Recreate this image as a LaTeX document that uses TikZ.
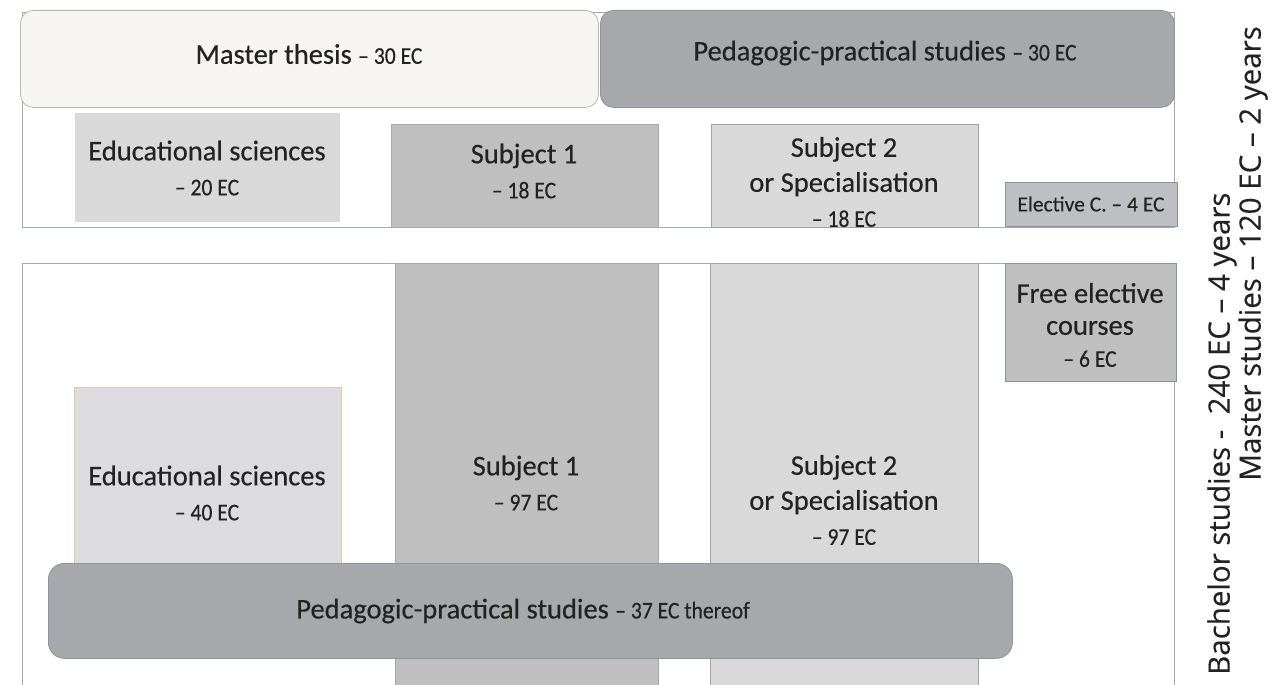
\documentclass[tikz,border=0pt]{standalone}
\usepackage{fontspec}
\setmainfont[FakeBold=0.4]{Carlito}
\newfontfamily\subf[FakeStretch=0.9,FakeBold=0.4]{Carlito}
\newfontfamily\osans[FakeBold=0.2]{Open Sans}
\definecolor{frameline}{HTML}{A3ABB4}
\definecolor{txt}{HTML}{222222}
\definecolor{thesisfill}{HTML}{F7F5F1}
\definecolor{thesisline}{HTML}{BFB7AC}
\definecolor{pedfill}{HTML}{A6A8AB}
\definecolor{pedline}{HTML}{8D959E}
\definecolor{darkfill}{HTML}{BFBFBF}
\definecolor{darkline}{HTML}{A9A9A9}
\definecolor{lightfill}{HTML}{D9D9D9}
\definecolor{lightline}{HTML}{A0A5A0}
\definecolor{elecfill}{HTML}{BEBFC3}
\definecolor{elecline}{HTML}{8994A3}
\definecolor{edufill}{HTML}{DCDCDE}
\definecolor{eduline}{HTML}{D8CF9F}
\newcommand\ecsub[1]{{\subf\fontsize{24}{35}\selectfont #1}}
\tikzset{
  sz/.style 2 args={minimum width=#1pt, minimum height=#2pt},
  boxnode/.style={rectangle, inner sep=0pt, anchor=north west, line width=0.8pt},
  framebox/.style={boxnode, draw=frameline, line width=1pt},
  darkbox/.style={boxnode, fill=darkfill, draw=darkline},
  lightbox/.style={boxnode, fill=lightfill, draw=lightline},
  pedbox/.style={boxnode, fill=pedfill, draw=pedline, rounded corners=13pt},
  label/.style={text=txt, align=center, inner sep=0pt, font=\fontsize{28.5}{35}\selectfont},
  sidelabel/.style={text=txt, inner sep=0pt, rotate=90, font=\osans\fontsize{29.5}{35}\selectfont}
}
\begin{document}
\begin{tikzpicture}[x=1pt,y=-1pt]
\useasboundingbox (0,0) rectangle (1272,685);
\clip (0,0) rectangle (1272,685);
\fill[white] (0,0) rectangle (1272,685);

% Master frame
\node[framebox, sz={1152}{215}] (mframe) at (22,12) {};
\node[boxnode, fill=thesisfill, draw=thesisline, rounded corners=13pt, sz={578}{97}] (mthesis) at (20,10) {};
\node[pedbox, sz={574}{97}] (mped) at (600,10) {};
\node[boxnode, fill=lightfill, sz={265}{109}] (eduU) at (75,113) {};
\node[darkbox, sz={267}{103}] (sub1U) at (391,124) {};
\node[lightbox, sz={267}{103}] (sub2U) at (711,124) {};
\node[boxnode, fill=elecfill, draw=elecline, sz={172}{44}] (elec) at (1005,182) {};

% Bachelor frame
\node[framebox, sz={1152}{440}] (bframe) at (22,263) {};
\node[darkbox, sz={263}{430}] (sub1L) at (395,263) {};
\node[lightbox, sz={268}{430}] (sub2L) at (710,263) {};
\node[boxnode, fill=darkfill, draw=elecline, sz={171}{118}] (free) at (1005,263) {};
\node[boxnode, fill=edufill, draw=eduline, sz={267}{250}] (eduL) at (74,387) {};
\node[pedbox, rounded corners=16pt, sz={964}{95}] (pedB) at (48,563) {};

% Texts
\node[label] (mthesisT) at (309,54) {Master thesis \ecsub{– 30 EC}};
\node[label] (mpedT) at (885,53) {Pedagogic-practical studies \ecsub{– 30 EC}};
\node[label] (eduUT) at (207,168) {Educational sciences\\\ecsub{– 20 EC}};
\node[label] (sub1UT) at (524,171) {Subject 1\\\ecsub{– 18 EC}};
\node[label] (sub2UT) at (844,182) {Subject 2\\or Specialisation\\\ecsub{– 18 EC}};
\node[label, font=\fontsize{21.5}{26}\selectfont] (elecT) at (1091,204) {Elective C. – 4 EC};
\node[label] (sub1LT) at (526,483) {Subject 1\\\ecsub{– 97 EC}};
\node[label] (sub2LT) at (844,500) {Subject 2\\or Specialisation\\\ecsub{– 97 EC}};
\node[label, font=\fontsize{28.5}{32}\selectfont] (freeT) at (1090,325) {Free elective\\courses\\{\subf\fontsize{24}{32}\selectfont – 6 EC}};
\node[label] (eduLT) at (207,493) {Educational sciences\\\ecsub{– 40 EC}};
\node[label] (pedBT) at (523,611) {Pedagogic-practical studies \ecsub{– 37 EC thereof}};

% Side labels
\node[sidelabel, anchor=west] (bachT) at (1222,675) {Bachelor studies -~~240 EC – 4 years};
\node[sidelabel, anchor=east] (mastT) at (1253,26) {Master studies – 120 EC – 2 years};
\end{tikzpicture}
\end{document}
